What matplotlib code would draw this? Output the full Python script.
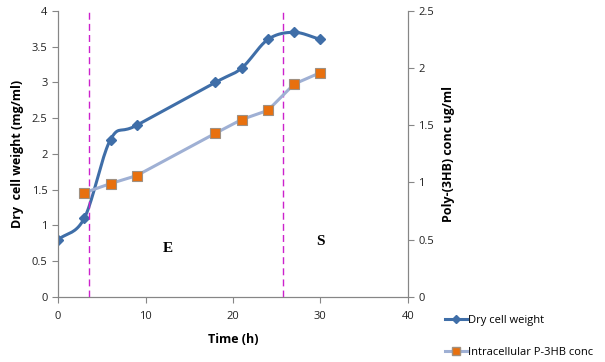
import matplotlib.pyplot as plt
import numpy as np

# data
time_h = [0, 3, 6, 9, 18, 21, 24, 27, 30]
dry_cell_weight = [0.8, 1.1, 2.2, 2.4, 3.0, 3.2, 3.6, 3.7, 3.6]
p3hb_time = [3, 6, 9, 18, 21, 24, 27, 30]
p3hb_conc = [0.91, 0.99, 1.06, 1.43, 1.55, 1.63, 1.86, 1.96]
phase_lines = [3.5, 25.7]
phase_labels = [(12.5, 0.68, 'E'), (30, 0.78, 'S')]


def catmull_rom(x, y, n=20):
    # smooth path through the points, like Excel's smoothed line
    x = np.asarray(x, float)
    y = np.asarray(y, float)
    px = np.concatenate([[2 * x[0] - x[1]], x, [2 * x[-1] - x[-2]]])
    py = np.concatenate([[2 * y[0] - y[1]], y, [2 * y[-1] - y[-2]]])
    xs, ys = [], []
    t = np.linspace(0, 1, n)
    for i in range(1, len(px) - 2):
        p0, p1, p2, p3 = [np.array([px[j], py[j]]) for j in range(i - 1, i + 3)]
        b0, b3 = p1, p2
        b1 = p1 + (p2 - p0) / 6
        b2 = p2 - (p3 - p1) / 6
        pts = ((1 - t) ** 3)[:, None] * b0 + (3 * (1 - t) ** 2 * t)[:, None] * b1 \
            + (3 * (1 - t) * t ** 2)[:, None] * b2 + (t ** 3)[:, None] * b3
        xs.extend(pts[:, 0])
        ys.extend(pts[:, 1])
    return np.array(xs), np.array(ys)


plt.rcParams['font.family'] = ['Open Sans', 'DejaVu Sans']

fig = plt.figure(figsize=(6.05, 3.62), dpi=100)
ax = fig.add_axes([0.096, 0.18, 0.578, 0.79])
ax2 = ax.twinx()

blue = '#3F6EA8'
grey_blue = '#9FB0D4'
orange = '#E8700E'

sx, sy = catmull_rom(time_h, dry_cell_weight)
ax.plot(sx, sy, color=blue, lw=2.2, zorder=3)
ax.plot(time_h, dry_cell_weight, ls='none', marker='D', ms=5.5, color=blue, zorder=4)

ax2.plot(p3hb_time, p3hb_conc, color=grey_blue, lw=2.2, marker='s', ms=7.5,
         mfc=orange, mec='#A09080', mew=0.8, zorder=3)

for xv in phase_lines:
    ax.axvline(xv, color='#CC22CC', ls=(0, (5, 3)), lw=1.0, zorder=5)
for xv, yv, s in phase_labels:
    ax.text(xv, yv, s, family='Liberation Serif', fontsize=11, fontweight='bold',
            ha='center', va='center')

ax.set_xlim(0, 40)
ax.set_ylim(0, 4)
ax2.set_ylim(0, 2.5)
ax.set_xticks([0, 10, 20, 30, 40])
ax.set_yticks(np.arange(0, 4.01, 0.5))
ax.set_yticklabels(['0', '0.5', '1', '1.5', '2', '2.5', '3', '3.5', '4'])
ax2.set_yticks(np.arange(0, 2.51, 0.5))
ax2.set_yticklabels(['0', '0.5', '1', '1.5', '2', '2.5'])

for a in (ax, ax2):
    a.spines['top'].set_visible(False)
    for s in ('left', 'right', 'bottom'):
        a.spines[s].set_color('#868686')
    a.tick_params(colors='#868686', labelcolor='#222222', labelsize=8, length=4, width=0.8)
ax.tick_params(axis='x', pad=6)

ax.set_xlabel('Time (h)', fontsize=9, fontweight='bold', labelpad=8)
ax.set_ylabel('Dry  cell weight (mg/ml)', fontsize=9, fontweight='bold', labelpad=6)
ax2.set_ylabel('Poly-(3HB) conc ug/ml', fontsize=9, fontweight='bold', labelpad=6)

h1 = plt.Line2D([], [], color=blue, lw=2.2, marker='D', ms=4.5)
h2 = plt.Line2D([], [], color=grey_blue, lw=2.2, marker='s', ms=6, mfc=orange, mec='#A09080')
fig.legend([h1, h2], ['Dry cell weight', 'Intracellular P-3HB conc'],
           loc='upper left', bbox_to_anchor=(0.735, 0.13), frameon=False,
           fontsize=8, labelspacing=1.9, handlelength=2.0, handletextpad=0.1,
           borderaxespad=0, borderpad=0)

fig.savefig('out.png', dpi=100)
